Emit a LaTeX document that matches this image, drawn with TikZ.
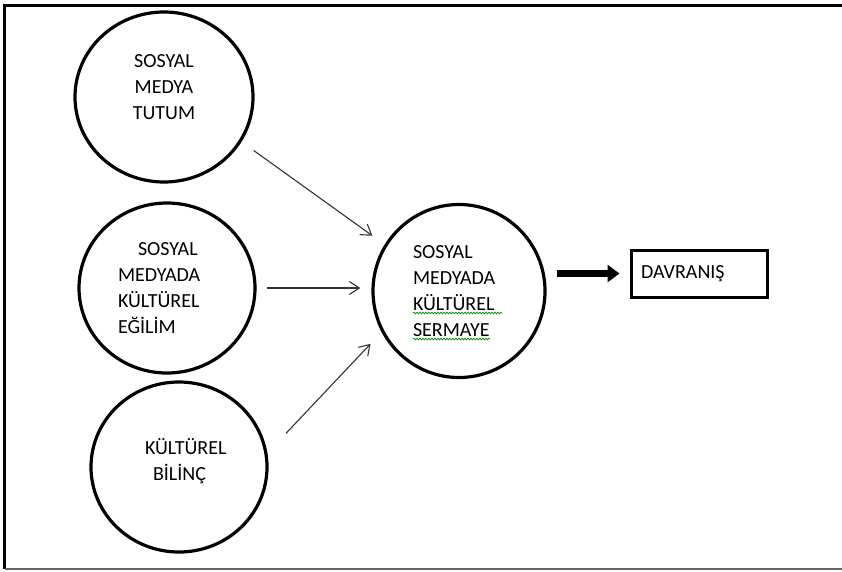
\documentclass[tikz,border=0pt]{standalone}
\usepackage{fontspec}
\setmainfont{Carlito}
\usetikzlibrary{shapes.geometric, arrows.meta, decorations.pathmorphing}
\tikzstyle{bubble} = [ellipse, draw=black, line width=3.2pt, minimum width=176pt, minimum height=170pt, inner sep=0pt, align=center, font=\fontsize{20}{26}\selectfont]
\tikzstyle{outcome} = [rectangle, draw=black, line width=3pt, minimum width=136pt, minimum height=47pt, text width=116pt, align=left, font=\fontsize{20}{26}\selectfont]
\tikzstyle{arrow} = [line width=1.1pt, draw=black!80, -{Straight Barb[length=10pt,width=13pt]}]
\tikzstyle{bigarrow} = [line width=6.5pt, -{Triangle[length=12pt,width=17pt]}]
\tikzstyle{squiggle} = [draw=green!55!black, line width=0.7pt, decorate, decoration={snake, amplitude=0.9pt, segment length=3pt}]

\begin{document}
\begin{tikzpicture}[node distance=191pt]

        \useasboundingbox (0pt,0pt) rectangle (842pt,-571pt);
        % frame
        \draw [line width=3pt] (850pt,-5.5pt) -- (4.5pt,-5.5pt) -- (4.5pt,-569pt);
        \draw [line width=2pt, draw=black!60] (4.5pt,-569pt) -- (850pt,-569pt);

        \node (tutum) [bubble, minimum width=178pt] at (164pt,-97pt) {SOSYAL\\MEDYA\\TUTUM\\[-6pt]\mbox{}};
        \node (egilim) [bubble, below of=tutum, xshift=3pt, text width=98pt, align=left] {\hspace*{20pt}SOSYAL\\MEDYADA\\KÜLTÜREL\\EĞİLİM};
        \node (bilinc) [bubble, below of=egilim, xshift=12pt, yshift=12pt, text width=68pt, align=left] {KÜLTÜREL\\\hspace*{8pt}BİLİNÇ\\[-10pt]\mbox{}};

        \node (sermaye) [bubble, right of=egilim, xshift=101pt, yshift=-3pt, minimum width=172pt, minimum height=173pt, text width=92pt, align=left] {SOSYAL\\MEDYADA\\KÜLTÜREL\\SERMAYE};
        \node (davranis) [outcome, right of=sermaye, xshift=49pt, yshift=17.5pt] {DAVRANIŞ};

        \draw [arrow, shorten <=15pt, shorten >=15pt] (tutum.-30) -- (sermaye.148);
        \draw [arrow, shorten <=10pt, shorten >=11pt] (egilim.east) -- (egilim.east -| sermaye.west);
        \draw [arrow, shorten <=27pt, shorten >=16pt] (bilinc.9) -- (sermaye.208);

        \draw [bigarrow, shorten <=10pt, shorten >=10pt] (davranis.west -| sermaye.east) -- (davranis.west);

        % spell check marks
        \draw [squiggle] (413pt,-313pt) -- (502pt,-313pt);
        \draw [squiggle] (413pt,-339pt) -- (490pt,-339pt);

    \end{tikzpicture}
\end{document}
